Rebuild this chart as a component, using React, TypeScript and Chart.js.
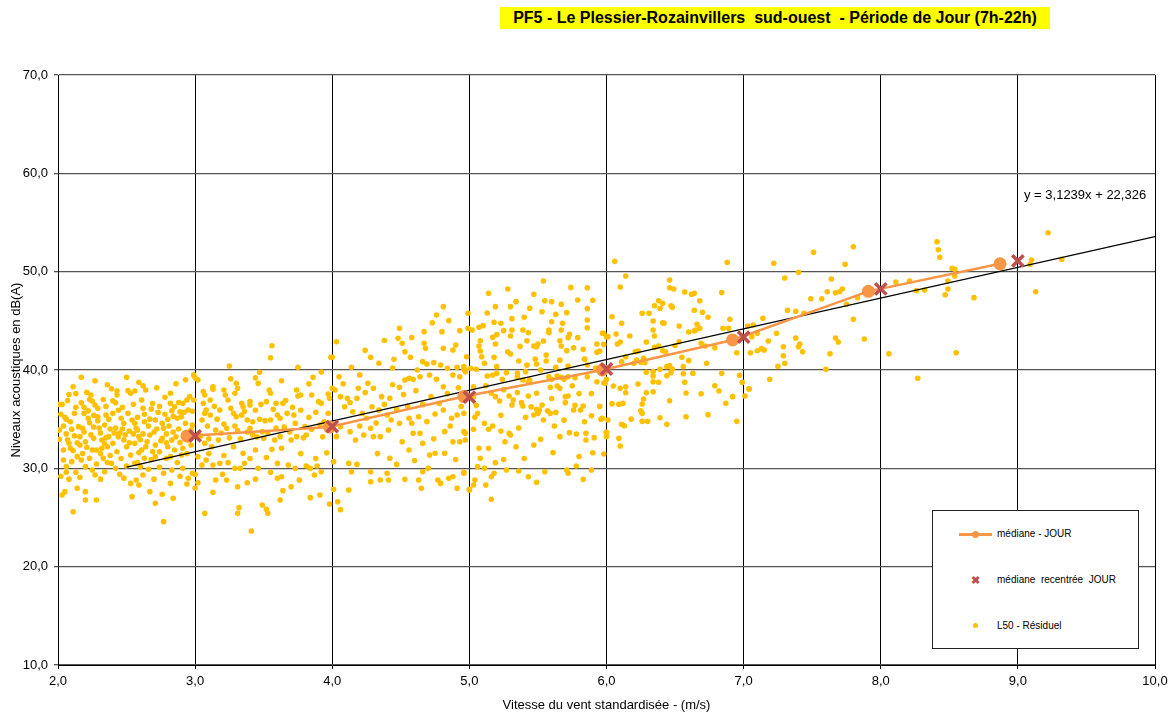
import React, { useEffect, useRef } from 'react';
import { Chart, registerables } from 'chart.js';

Chart.register(...registerables);

const FONT = '"Liberation Sans", Arial, Helvetica, sans-serif';

const TITLE = 'PF5 - Le Plessier-Rozainvillers  sud-ouest  - Période de Jour (7h-22h)';
const X_TITLE = 'Vitesse du vent standardisée - (m/s)';
const Y_TITLE = 'Niveaux acoustiques en dB(A)';
const EQUATION = 'y = 3,1239x + 22,326';

const X_MIN = 2;
const X_MAX = 10;
const Y_MIN = 10;
const Y_MAX = 70;

// médiane - JOUR (orange circles + line)
const medianX = [2.94, 3.98, 4.96, 5.97, 6.92, 7.91, 8.87];
const medianY = [33.3, 34.2, 37.3, 40.0, 43.05, 48.0, 50.8];

// médiane recentrée JOUR (red crosses)
const recentX = [3, 4, 5, 6, 7, 8, 9];
const recentY = [33.3, 34.25, 37.25, 40.1, 43.35, 48.24, 51.1];

// linear trend line end points (y = 3,1239x + 22,326)
const trendX = [2.5, 10];
const trendY = [30.13, 53.56];

// L50 - Résiduel scatter [x, y]
const l50Points: [number, number][] = [
  [2.17,39.26],[2.27,38.91],[2.50,39.26],[2.59,38.75],[2.21,37.73],[2.24,37.46],[2.17,36.67],[2.13,36.20],
  [2.43,37.86],[2.43,37.46],[2.51,37.90],[2.53,37.63],[2.56,37.86],[2.64,37.97],
  [2.40,36.88],[2.42,36.67],[2.55,36.51],[2.61,36.95],[2.68,36.03],[2.78,37.22],[2.82,37.63],[2.82,36.61],
  [2.25,36.85],[2.27,36.44],[2.29,36.10],[2.22,35.86],
  [2.96,37.29],[2.94,36.95],[2.91,36.61],[2.99,36.95],[2.85,36.27],[2.83,35.86],[2.95,35.93],[2.89,35.76],
  [2.05,35.19],[2.06,34.99],[2.09,34.74],[2.01,33.90],[2.10,33.97],[2.15,34.24],[2.18,34.07],[2.22,35.09],[2.23,34.64],[2.29,35.25],[2.29,34.85],[2.35,35.42],[2.40,35.59],
  [2.46,35.09],[2.48,34.58],[2.54,34.92],[2.56,34.58],[2.57,34.07],[2.63,34.74],[2.71,34.92],[2.76,34.58],[2.77,34.07],[2.80,34.99],[2.87,35.09],[2.90,35.25],[2.93,34.58],[2.98,34.41],
  [2.01,32.95],[2.04,31.86],[2.08,32.54],[2.09,32.03],[2.16,33.22],[2.16,32.37],[2.20,32.71],[2.21,32.14],[2.26,33.05],[2.25,31.86],[2.28,31.86],[2.32,32.88],[2.32,32.03],[2.37,33.22],[2.36,32.20],[2.40,32.54],[2.43,31.69],[2.44,33.22],
  [2.48,32.88],[2.50,32.20],[2.53,31.36],[2.56,32.54],[2.59,33.22],[2.61,31.86],[2.65,32.71],[2.67,33.39],[2.71,32.37],[2.74,31.69],[2.76,33.05],[2.80,32.20],[2.83,32.88],[2.85,31.86],[2.89,32.61],[2.91,32.03],[2.95,32.88],[2.97,32.37],[2.90,31.36],[2.82,31.19],[2.71,31.19],[2.63,31.02],
  [2.04,30.85],[2.06,30.17],[2.10,30.68],[2.14,31.19],[2.17,30.85],[2.20,30.17],[2.23,31.02],[2.25,29.83],[2.28,30.44],[2.33,31.02],[2.34,29.66],[2.39,30.51],[2.42,30.00],[2.27,29.32],
  [2.50,30.24],[2.56,30.51],[2.60,30.17],[2.62,29.32],[2.53,28.47],[2.57,28.81],[2.59,28.30],[2.74,30.10],[2.83,29.83],[2.91,30.00],[2.95,28.98],[2.94,28.40],[2.98,29.49],
  [2.03,27.29],[2.05,27.63],[2.14,27.97],[2.20,27.63],[2.20,26.78],[2.28,26.78],[2.54,27.12],[2.67,27.63],[2.76,27.36],[2.84,26.95],[2.82,28.47],[2.11,25.59],[2.71,26.44],[2.77,24.58],
  [2.03,36.5],[2.07,36.9],[2.12,35.6],[2.19,35.6],[2.26,34.2],[2.31,33.6],[2.34,34.4],[2.38,34.0],[2.45,33.6],[2.52,33.8],[2.58,33.9],[2.62,33.5],[2.66,34.3],[2.70,33.7],[2.73,35.7],[2.79,33.5],[2.84,33.7],[2.88,34.0],[2.92,33.4],[2.97,33.9],
  [2.12,33.3],[2.06,33.5],[2.19,33.7],[2.24,33.4],[2.35,33.1],[2.42,34.1],[2.47,34.0],[2.62,36.1],[2.69,36.6],[2.74,36.3],[2.47,36.2],[2.35,36.3],[2.33,37.0],[2.08,37.5],[2.11,38.3],[2.36,38.5],[2.72,38.2],[2.86,38.6],[2.93,39.0],[2.99,39.5],
  [2.02,29.2],[2.08,28.9],[2.13,29.6],[2.31,28.9],[2.45,29.4],[2.66,29.9],[2.70,28.9],[2.87,30.6],[2.79,31.0],[2.59,31.6],[2.00,36.5],[2.00,33.9],
  [2.02,35.5],[2.04,34.3],[2.07,32.9],[2.11,31.8],[2.14,32.6],[2.18,31.5],[2.19,36.2],[2.23,37.0],[2.26,35.4],[2.30,34.1],[2.31,31.5],[2.34,32.5],[2.37,35.0],[2.38,31.3],[2.41,33.6],[2.44,35.9],[2.46,31.0],[2.49,33.4],[2.51,35.6],[2.52,32.6],
  [2.55,33.5],[2.58,35.2],[2.60,32.9],[2.63,35.5],[2.64,32.2],[2.67,35.0],[2.69,31.7],[2.72,34.0],[2.75,32.8],[2.78,35.5],[2.79,32.6],[2.81,34.3],[2.84,35.3],[2.86,33.2],[2.88,36.7],[2.92,35.7],[2.94,31.5],[2.96,33.3],[2.98,35.8],
  [2.06,29.6],[2.16,29.1],[2.36,30.6],[2.48,29.0],[2.58,30.6],[2.68,30.9],[2.77,29.5],[2.89,29.2],[2.13,37.6],[2.39,38.1],[2.62,38.4],
  [3.56,42.47],[3.55,41.25],[3.25,40.41],[3.75,40.27],[3.47,39.77],[4.00,41.29],[3.86,39.26],[3.30,38.64],[3.46,38.64],
  [3.13,38.30],[3.13,38.03],[3.06,37.80],[3.21,37.97],[3.29,37.63],[3.31,38.14],
  [3.54,37.97],[3.55,37.63],[3.52,36.78],[3.64,36.61],[3.59,36.61],[3.74,37.97],[3.75,37.36],[3.77,37.46],[3.85,37.46],[3.90,36.78],[3.92,36.61],[3.97,37.56],[3.98,37.12],[4.00,38.14],
  [3.07,37.46],[3.11,36.95],[3.06,36.61],[3.22,37.46],[3.24,36.95],[3.34,36.61],[3.35,36.27],[3.40,36.78],[3.40,36.44],[3.18,35.93],[3.08,35.93],[3.07,35.59],[3.05,34.92],[3.11,35.42],
  [3.28,35.59],[3.30,35.25],[3.34,35.42],[3.38,34.92],[3.42,34.74],[3.47,34.99],[3.51,34.85],[3.55,34.92],[3.60,35.42],[3.62,35.09],[3.67,35.59],[3.72,35.42],[3.73,34.58],[3.80,34.24],[3.85,33.97],[3.91,34.41],[3.94,34.74],[3.96,34.24],
  [3.15,33.90],[3.23,34.07],[3.31,33.83],[3.40,34.07],[3.42,33.39],[3.49,33.73],[3.50,33.05],[3.58,32.88],[3.62,33.22],[3.70,32.88],[3.74,33.22],[3.81,33.39],[3.63,32.03],[3.56,31.93],[3.44,31.86],[3.28,32.20],[3.17,32.88],[3.07,32.54],[3.12,32.20],[3.02,31.19],[3.08,30.85],[3.05,30.34],
  [3.13,30.34],[3.18,30.51],[3.24,30.58],[3.29,30.00],[3.35,31.53],[3.46,30.00],[3.36,30.51],[3.68,30.34],[3.73,30.00],[3.84,30.00],[3.89,30.24],[3.92,29.66],[3.87,29.32],[3.81,30.24],[3.96,31.59],
  [3.02,28.54],[3.15,28.81],[3.23,28.81],[3.31,28.13],[3.38,28.54],[3.60,28.98],[3.63,29.15],[3.70,28.13],[3.64,27.73],[3.84,27.02],[3.91,27.29],[3.98,26.37],[3.13,27.56],
  [3.07,25.42],[3.32,26.00],[3.31,25.42],[3.49,26.27],[3.52,25.83],[3.53,25.42],[3.62,26.78],[3.41,23.62],
  [3.00,39.2],[3.02,39.0],[3.00,29.4],[3.00,28.0],
  [3.04,33.3],[3.09,34.3],[3.10,33.0],[3.14,36.3],[3.16,35.0],[3.19,33.6],[3.21,34.5],[3.25,33.1],[3.26,36.1],[3.29,34.3],[3.33,33.0],[3.36,35.8],[3.38,33.7],[3.44,35.9],[3.45,33.2],[3.48,36.5],[3.53,33.6],[3.57,36.0],[3.59,34.1],[3.65,34.2],
  [3.66,36.9],[3.69,33.7],[3.71,36.2],[3.77,35.9],[3.79,33.1],[3.83,35.2],[3.88,35.7],[3.93,33.2],[3.97,35.6],[3.10,31.5],[3.21,31.3],[3.33,30.0],[3.40,31.0],[3.52,31.1],[3.60,30.5],[3.77,31.5],[3.88,31.0],[3.20,29.4],[3.44,28.9],[3.55,29.6],
  [3.76,28.8],[3.26,39.1],[3.44,39.2],[3.63,38.9],[3.83,38.6],[3.92,39.8],
  [4.03,42.88],[3.99,41.29],[4.49,44.24],[4.48,43.22],[4.51,42.71],[4.67,43.90],[4.67,42.71],[4.68,42.20],[4.76,45.59],[4.81,46.44],[4.85,45.02],[4.80,43.90],[4.90,42.54],[4.88,42.03],[4.81,42.20],
  [4.14,40.27],[4.28,41.29],[4.34,40.68],[4.45,41.09],[4.53,41.86],[4.57,41.29],[4.62,40.00],[4.66,40.85],[4.69,40.61],[4.74,40.75],[4.79,40.51],[4.84,40.17],[4.91,40.27],[4.96,40.07],
  [4.05,39.32],[4.02,37.97],[4.06,37.29],[4.11,37.12],[4.18,37.12],[4.19,38.14],[4.26,38.64],[4.30,38.14],[4.36,37.29],[4.42,37.12],[4.49,38.24],[4.53,38.98],[4.56,39.15],[4.59,39.05],[4.64,39.32],[4.71,39.49],[4.76,39.05],[4.81,38.30],[4.88,39.49],[4.93,39.32],[4.97,39.83],
  [4.09,36.27],[4.15,35.76],[4.22,35.59],[4.25,35.09],[4.29,36.27],[4.34,35.93],[4.40,35.42],[4.43,34.92],[4.49,34.58],[4.56,35.09],[4.58,34.58],[4.63,35.25],[4.69,34.75],[4.75,35.52],[4.81,35.93],[4.87,35.09],[4.91,35.42],[4.96,35.59],
  [4.06,34.24],[4.03,33.22],[4.13,33.73],[4.17,32.88],[4.23,33.39],[4.28,34.07],[4.30,33.22],[4.35,33.22],[4.41,33.90],[4.42,31.02],[4.51,32.71],[4.56,31.86],[4.59,33.56],[4.64,33.56],[4.66,32.54],[4.71,31.36],[4.75,31.53],[4.82,33.73],[4.82,31.53],[4.88,32.71],[4.93,32.71],[4.96,33.73],
  [4.01,30.68],[4.12,30.51],[4.14,29.66],[4.28,29.66],[4.40,29.49],[4.41,28.81],[4.53,28.88],[4.63,28.81],[4.66,29.66],[4.77,28.81],[4.85,28.98],[4.88,29.15],[4.96,29.49],[4.01,27.87],[4.12,27.80],[4.28,28.64],[4.35,28.81],[4.65,27.97],[4.79,28.47],[4.91,27.97],[5.00,27.80],
  [4.06,25.8],[4.04,26.6],
  [4.08,38.6],[4.13,36.7],[4.20,34.3],[4.24,37.7],[4.32,34.6],[4.38,36.5],[4.44,38.5],[4.47,36.0],[4.52,37.5],[4.55,36.3],[4.61,37.9],[4.66,36.5],[4.72,37.3],[4.74,33.0],[4.78,36.6],[4.84,37.6],[4.86,34.3],[4.92,38.2],[4.94,36.3],
  [4.18,30.4],[4.33,31.5],[4.47,30.4],[4.60,30.8],[4.70,30.0],[4.90,30.9],[4.24,42.0],[4.38,43.0],[4.58,43.3],[4.73,44.8],[4.93,44.0],[4.44,40.2],[4.20,39.5],
  [5.54,49.05],[5.28,48.24],[5.86,48.37],[5.14,47.80],[5.34,46.95],[5.19,46.44],[5.30,46.44],[5.44,46.27],[5.55,47.05],[5.60,46.95],[5.67,46.68],[5.79,47.12],[5.86,46.24],[5.53,45.93],[5.63,45.66],[5.71,45.83],[4.99,45.77],[4.99,44.24],[5.02,44.07],[5.07,44.34],[5.10,44.51],[5.18,44.85],[5.23,44.75],[5.31,45.22],[5.40,45.36],[5.25,44.00],[5.31,44.07],[5.30,43.46],[5.39,44.07],[5.43,43.80],[5.58,44.07],[5.58,43.80],[5.67,44.07],[5.73,43.63],[5.68,44.75],[5.86,45.08],[5.86,44.30],[5.97,43.73],[6.01,43.39],
  [5.08,42.98],[5.07,42.44],[5.08,41.93],[5.17,43.32],[5.19,42.64],[5.42,42.98],[5.50,42.64],[5.47,42.44],[5.49,42.37],[5.54,42.95],[5.66,42.98],[5.67,42.44],[5.72,43.29],[5.76,42.27],[5.79,43.29],[5.71,41.97],[5.28,41.86],[5.30,41.63],[5.36,40.92],[5.18,41.29],[5.09,41.35],[4.98,41.35],[5.48,41.12],[5.49,40.61],[5.56,41.53],[5.56,40.92],[5.83,42.10],[5.84,41.12],[5.93,42.64],[5.93,41.80],[5.95,41.93],[5.98,42.61],
  [5.11,40.68],[5.20,40.34],[4.96,40.34],[4.97,40.00],[5.01,40.17],[5.05,40.07],[5.13,39.39],[5.17,39.49],[5.20,39.66],[5.24,39.05],[5.27,39.73],[5.35,39.66],[5.35,39.32],[5.39,38.98],[5.41,39.83],[5.43,38.81],[5.44,38.98],[5.52,40.00],[5.58,39.32],[5.60,39.05],[5.63,40.27],[5.64,39.39],[5.67,39.25],[5.69,39.05],[5.72,40.41],[5.72,39.32],[5.77,39.22],[5.84,41.09],[5.86,40.51],[5.86,39.32],
  [5.59,38.24],[5.64,38.37],[5.66,38.14],[5.93,38.81],[5.98,38.71],[6.00,39.05],[5.03,38.30],[5.03,37.29],[4.98,37.46],
  [5.16,37.63],[5.19,37.29],[5.22,36.85],[5.29,37.36],[5.31,36.44],[5.32,36.95],[5.38,36.68],[5.39,36.34],
  [5.43,37.36],[5.49,37.63],[5.53,36.44],[5.45,36.27],[5.49,36.00],[5.51,35.93],[5.47,35.42],[5.50,35.59],[5.54,34.92],[5.57,35.86],[5.59,35.59],[5.63,35.69],[5.70,37.29],[5.72,37.36],[5.70,36.68],[5.77,36.41],[5.81,35.93],[5.83,36.34],[5.76,35.93],[5.84,34.74],[5.89,35.35],[5.96,34.99],
  [5.04,35.19],[5.06,35.59],[5.03,33.97],[5.11,34.58],[5.14,33.97],[5.17,34.31],[5.23,33.80],
  [5.29,33.56],[5.30,33.39],[5.34,32.20],[5.26,32.71],[5.52,32.95],[5.66,33.22],[5.73,33.63],[5.78,33.49],[5.85,33.56],[5.85,32.88],[5.91,33.12],[6.00,33.63],[6.00,33.22],[5.47,32.37],
  [5.07,32.03],[5.08,31.02],[5.14,32.03],[5.19,30.58],[5.27,29.83],[5.36,29.73],[5.43,29.15],[5.49,28.58],[5.55,29.66],[5.71,29.83],[5.72,29.49],[5.78,30.24],[5.83,28.88],[5.89,29.83],[5.98,31.46],[5.90,31.59],
  [4.96,29.59],[5.04,28.81],[5.03,28.30],[5.00,27.87],[5.06,30.17],[5.11,30.00],[5.12,28.30],[5.16,29.15],[5.18,29.49],[5.16,26.85],
  [4.97,33.56],[4.97,32.88],[6.01,34.92],
  [5.05,36.4],[5.12,38.4],[5.25,38.0],[5.35,37.7],[5.42,40.5],[5.60,37.1],[5.66,41.0],[5.75,38.4],[5.80,37.6],[5.89,37.6],[5.92,40.2],[5.95,36.3],[5.23,35.4],[5.36,34.1],[5.41,35.2],[5.62,34.3],[5.69,34.9],[5.80,31.2],[5.61,31.6],[5.40,31.0],
  [5.25,30.9],[5.13,45.8],[5.47,47.7],[5.74,48.4],[5.90,47.1],[5.60,44.9],[5.20,43.6],[5.37,42.4],
  [6.06,51.05],[6.88,50.95],[6.14,49.56],[6.10,48.44],[6.46,49.15],[6.46,48.37],[6.49,48.24],[6.57,47.93],[6.62,47.70],[6.64,47.80],[6.68,47.05],[6.84,47.87],[6.38,47.05],[6.41,46.78],[6.35,46.54],[6.39,46.27],[6.47,46.54],[6.48,46.37],[6.64,46.07],[6.70,45.87],[6.74,45.36],[6.26,45.77],[6.31,45.77],[6.04,45.42],[6.34,44.98],[6.41,44.81],[6.42,44.75],[6.11,44.75],[6.66,44.65],[6.68,44.24],[6.34,44.07],[6.35,43.46],[6.60,43.86],[6.64,43.97],[6.65,44.07],[6.53,44.48],[6.90,45.16],[6.85,44.24],[6.89,44.24],
  [6.17,43.46],[6.07,43.66],[5.98,43.73],[6.29,42.85],[6.21,41.86],[6.23,41.93],[6.10,42.85],[6.08,42.64],[6.00,43.39],[6.53,42.88],[6.50,42.47],[6.38,42.44],[6.35,42.30],[6.43,41.86],[6.41,41.96],[6.69,42.71],[6.72,42.44],[6.79,42.27],
  [6.27,41.19],[6.28,40.74],[6.25,40.78],[6.14,41.35],[6.11,40.85],[6.20,40.68],[6.22,41.02],[6.55,41.29],[6.60,40.95],[6.46,40.44],[6.48,40.10],[6.44,40.34],[6.39,40.07],[6.73,40.68],[6.56,40.34],[6.95,41.76],
  [6.29,39.77],[6.34,39.83],[6.34,39.39],[6.38,38.75],[6.34,38.81],[6.44,39.42],[6.47,39.73],[6.56,39.63],[6.63,39.66],[6.57,38.75],[6.84,39.66],[6.97,39.46],[6.99,38.75],[7.04,38.07],[7.01,37.36],
  [5.99,38.65],[6.05,38.37],[6.10,38.14],[6.14,38.30],[6.14,37.69],[6.23,38.58],[6.29,37.69],[6.27,37.05],[6.26,36.54],[6.34,37.79],[6.46,36.88],[6.58,37.66],[6.69,37.59],[6.79,38.40],[6.82,37.86],[6.92,37.29],
  [6.04,36.58],[6.09,36.51],[6.12,36.61],[6.87,36.61],[6.25,35.86],[6.26,35.59],[6.18,35.00],[6.26,34.78],[6.30,34.78],[6.39,35.15],[6.44,34.48],[6.58,35.25],[6.74,35.46],[6.95,34.78],[6.11,34.48],[6.13,34.33],[6.00,33.66],[6.00,33.39],[6.09,33.05],[6.10,32.27],[5.97,35.09],
  [7.22,50.85],[7.51,51.97],[7.80,52.54],[7.74,50.75],[7.40,49.93],[7.30,49.36],[7.64,49.25],[7.61,47.96],[7.67,47.86],[7.70,47.96],[7.72,48.24],[7.49,47.25],[7.57,47.25],[7.75,46.68],[7.83,47.36],[7.32,46.07],[7.38,45.97],[7.44,45.77],[7.14,45.26],[7.07,44.58],[7.03,44.48],[7.10,43.73],[7.06,43.39],[7.24,43.73],[7.80,45.16],[7.18,42.95],[7.38,43.25],[7.41,42.64],[7.40,42.37],[7.29,42.37],[7.67,43.25],[7.69,42.85],[7.88,43.15],[7.13,42.17],[7.15,42.03],[7.10,41.96],[7.05,41.76],[7.43,41.86],[7.29,41.45],[7.63,41.66],[7.30,40.68],[7.25,40.37],[7.60,40.07],[7.19,39.05],[7.04,38.10],
  [8.06,41.66],[8.27,39.16],[8.55,41.76],[8.11,48.95],[8.21,49.05],[8.26,48.07],[8.32,48.13],[8.49,49.05],[8.49,48.24],[8.47,47.66],[8.52,50.34],[8.54,50.24],[8.54,49.56],[8.41,53.05],[8.42,52.23],[8.43,51.46],[8.68,47.36],[9.10,51.19],[9.09,50.75],[9.13,47.96],[9.22,53.96],[9.32,51.25],
];

const ORANGE = '#F79646';
const RED = '#C0504D';
const YELLOW = '#FFC000';

const fmt = (v: number) => v.toFixed(1).replace('.', ',');

export default function App() {
  const ref = useRef<HTMLCanvasElement>(null);

  useEffect(() => {
    if (!ref.current) return;
    const chart = new Chart(ref.current, {
      type: 'scatter',
      data: {
        datasets: [
          {
            label: 'médiane recentrée JOUR',
            data: recentX.map((x, i) => ({ x, y: recentY[i] })),
            pointStyle: 'crossRot',
            pointRadius: 8,
            pointBorderWidth: 3.5,
            borderColor: RED,
            backgroundColor: RED,
            showLine: false,
            order: 0,
          },
          {
            label: 'médiane - JOUR',
            data: medianX.map((x, i) => ({ x, y: medianY[i] })),
            showLine: true,
            borderColor: ORANGE,
            backgroundColor: ORANGE,
            borderWidth: 2.5,
            pointRadius: 6.5,
            pointBorderWidth: 0,
            pointBackgroundColor: ORANGE,
            order: 1,
          },
          {
            label: 'trend',
            data: trendX.map((x, i) => ({ x, y: trendY[i] })),
            showLine: true,
            borderColor: '#000000',
            borderWidth: 1.2,
            pointRadius: 0,
            order: 2,
          },
          {
            label: 'L50 - Résiduel',
            data: l50Points.map(([x, y]) => ({ x, y })),
            pointRadius: 2.8,
            pointBorderWidth: 0,
            pointBackgroundColor: YELLOW,
            backgroundColor: YELLOW,
            borderColor: YELLOW,
            showLine: false,
            order: 3,
          },
        ],
      },
      options: {
        responsive: false,
        animation: false,
        events: [],
        layout: { padding: { left: 0, right: 18, top: 75, bottom: 0 } },
        plugins: {
          legend: { display: false },
          tooltip: { enabled: false },
          title: { display: false },
        },
        scales: {
          x: {
            type: 'linear',
            min: X_MIN,
            max: X_MAX,
            ticks: {
              stepSize: 1,
              callback: (v: any) => fmt(Number(v)),
              font: { family: FONT, size: 13 },
              color: '#000',
              padding: 5,
              maxRotation: 0,
            },
            grid: { color: '#000', lineWidth: 1, tickLength: 4, drawTicks: true },
            border: { color: '#000', width: 1 },
            title: {
              display: true,
              text: X_TITLE,
              font: { family: FONT, size: 13 },
              color: '#000',
              padding: { top: 0, bottom: 2 },
            },
            afterFit: (s: any) => {
              s.height = 50;
            },
          },
          y: {
            type: 'linear',
            min: Y_MIN,
            max: Y_MAX,
            ticks: {
              stepSize: 10,
              callback: (v: any) => fmt(Number(v)),
              font: { family: FONT, size: 13 },
              color: '#000',
              padding: 6,
            },
            grid: { color: '#555555', lineWidth: 1.3, tickLength: 4, drawTicks: true },
            border: { color: '#000', width: 1 },
            title: {
              display: true,
              text: Y_TITLE,
              font: { family: FONT, size: 13 },
              color: '#000',
              padding: { top: 9, bottom: 0 },
            },
            afterFit: (s: any) => {
              s.width = 58;
            },
          },
        },
      },
    });
    return () => chart.destroy();
  }, []);

  const legendText: React.CSSProperties = {
    position: 'absolute',
    left: 64,
    fontFamily: FONT,
    fontSize: 10,
    color: '#000',
    whiteSpace: 'pre',
    lineHeight: '12px',
  };

  return (
    <div style={{ position: 'absolute', left: 0, top: 0, width: 1173, height: 715, background: '#fff', overflow: 'hidden' }}>
      <canvas ref={ref} width={1173} height={715} style={{ display: 'block', width: 1173, height: 715 }} />
      <div
        style={{
          position: 'absolute',
          left: 500,
          top: 7,
          width: 550,
          height: 22,
          background: '#FFFF00',
          fontFamily: FONT,
          fontWeight: 'bold',
          fontSize: 16,
          lineHeight: '22px',
          textAlign: 'center',
          whiteSpace: 'pre',
          color: '#000',
        }}
      >
        {TITLE}
      </div>
      <div
        style={{
          position: 'absolute',
          left: 1024,
          top: 187,
          fontFamily: FONT,
          fontSize: 13,
          lineHeight: '16px',
          whiteSpace: 'pre',
          color: '#000',
        }}
      >
        {EQUATION}
      </div>
      <div
        style={{
          position: 'absolute',
          left: 932,
          top: 510,
          width: 205,
          height: 137,
          border: '1px solid #222',
          background: '#fff',
        }}
      >
        <div style={{ position: 'absolute', left: 26, top: 22, width: 33, height: 2.5, background: ORANGE }} />
        <div style={{ position: 'absolute', left: 39, top: 20, width: 7, height: 7, borderRadius: '50%', background: ORANGE }} />
        <div style={{ ...legendText, top: 17 }}>médiane - JOUR</div>
        <div style={{ position: 'absolute', left: 37, top: 64, width: 10, height: 10, color: RED, fontFamily: FONT, fontSize: 11, fontWeight: 'bold', lineHeight: '10px', textAlign: 'center' }}>✖</div>
        <div style={{ ...legendText, top: 63 }}>médiane  recentrée  JOUR</div>
        <div style={{ position: 'absolute', left: 40, top: 112, width: 5, height: 5, borderRadius: '50%', background: YELLOW }} />
        <div style={{ ...legendText, top: 109 }}>L50 - Résiduel</div>
      </div>
    </div>
  );
}
